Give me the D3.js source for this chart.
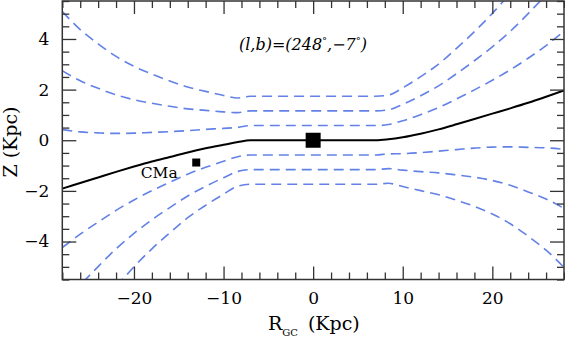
<!DOCTYPE html>
<html>
<head>
<meta charset="utf-8">
<script src="https://cdn.jsdelivr.net/npm/d3@7"></script>
<style>
  body { margin: 0; background: #fff; }
  svg text { font-family: "DejaVu Serif", serif; fill: #000; }
</style>
</head>
<body>
<div id="mydiv"></div>
<script>
// R_GC sample positions (Kpc)
const rgc = [-28, -26, -24, -22, -20, -18, -16, -14, -12, -10, -8.4, -7, 0,
             7, 8.4, 10, 12, 14, 16, 18, 20, 22, 24, 26, 28];

// warped mid-plane (solid black)
const zMid = [-1.91, -1.69, -1.47, -1.25, -1.04, -0.84, -0.66, -0.48, -0.32, -0.18, -0.07, 0, 0,
              0, 0.04, 0.12, 0.26, 0.43, 0.63, 0.84, 1.05, 1.26, 1.48, 1.72, 1.97];

// dashed envelopes, upper side
const zUp1 = [0.42, 0.33, 0.29, 0.27, 0.28, 0.31, 0.34, 0.38, 0.43, 0.47, 0.51, 0.58, 0.58,
              0.58, 0.62, 0.77, 1.01, 1.29, 1.63, 1.99, 2.37, 2.78, 3.24, 3.74, 4.30];
const zUp2 = [2.75, 2.35, 2.05, 1.79, 1.60, 1.46, 1.34, 1.24, 1.18, 1.12, 1.09, 1.16, 1.16,
              1.16, 1.20, 1.42, 1.76, 2.15, 2.63, 3.14, 3.69, 4.30, 5.00, 5.76, 6.63];
const zUp3 = [5.08, 4.37, 3.81, 3.31, 2.92, 2.61, 2.34, 2.10, 1.93, 1.77, 1.67, 1.74, 1.74,
              1.74, 1.78, 2.07, 2.51, 3.01, 3.63, 4.29, 5.01, 5.82, 6.76, 7.78, 8.96];
// dashed envelopes, lower side
const zLo1 = [-4.24, -3.71, -3.23, -2.77, -2.36, -1.99, -1.66, -1.34, -1.07, -0.83, -0.65, -0.58, -0.58,
              -0.58, -0.54, -0.53, -0.49, -0.43, -0.37, -0.31, -0.27, -0.26, -0.28, -0.30, -0.36];
const zLo2 = [-6.57, -5.73, -4.99, -4.29, -3.68, -3.14, -2.66, -2.20, -1.82, -1.48, -1.23, -1.16, -1.16,
              -1.16, -1.12, -1.18, -1.24, -1.29, -1.37, -1.46, -1.59, -1.78, -2.04, -2.32, -2.69];
const zLo3 = [-8.90, -7.75, -6.75, -5.81, -5.00, -4.29, -3.66, -3.06, -2.57, -2.13, -1.81, -1.74, -1.74,
              -1.74, -1.70, -1.83, -1.99, -2.15, -2.37, -2.61, -2.91, -3.30, -3.79, -4.34, -5.02];

// marked points [R_GC, Z]
const centerPt = [0, 0];
const cmaPt = [-13.05, -0.88];

const xMajor = [-20, -10, 0, 10, 20];
const yMajor = [-4, -2, 0, 2, 4];

const W = 565, H = 339;
const pL = 62.3, pR = 564, pT = 1, pB = 279.5;

const svg = d3.select("#mydiv")
  .append("svg")
  .attr("width", W)
  .attr("height", H);

const x = d3.scaleLinear().domain([-28, 28]).range([pL, pR]);
const y = d3.scaleLinear().domain([-5.5, 5.5]).range([pB, pT]);

svg.append("clipPath").attr("id", "clip")
  .append("rect")
  .attr("x", pL).attr("y", pT)
  .attr("width", pR - pL).attr("height", pB - pT);

const plot = svg.append("g").attr("clip-path", "url(#clip)");

const line = d3.line()
  .x(d => x(d[0]))
  .y(d => y(d[1]))
  .curve(d3.curveMonotoneX);

const dashed = [zUp1, zUp2, zUp3, zLo1, zLo2, zLo3];
dashed.forEach(zs => {
  plot.append("path")
    .datum(rgc.map((r, i) => [r, zs[i]]))
    .attr("d", line)
    .attr("fill", "none")
    .attr("stroke", "#6482e6")
    .attr("stroke-width", 1.6)
    .attr("stroke-dasharray", "10,6");
});

plot.append("path")
  .datum(rgc.map((r, i) => [r, zMid[i]]))
  .attr("d", line)
  .attr("fill", "none")
  .attr("stroke", "#000")
  .attr("stroke-width", 2);

// squares
plot.append("rect")
  .attr("x", x(centerPt[0]) - 7.5).attr("y", y(centerPt[1]) - 7.5)
  .attr("width", 15).attr("height", 15)
  .attr("fill", "#000");
plot.append("rect")
  .attr("x", x(cmaPt[0]) - 4).attr("y", y(cmaPt[1]) - 4)
  .attr("width", 8).attr("height", 8)
  .attr("fill", "#000");

svg.append("text")
  .attr("x", x(cmaPt[0]) - 18.5)
  .attr("y", y(cmaPt[1]) + 15.5)
  .attr("text-anchor", "end")
  .style("font-size", "15.5px")
  .text("CMa");

// axes: ticks inward on all four sides
const xMinor = d3.range(-28, 28.1, 2).filter(v => xMajor.indexOf(v) < 0);
const yMinor = d3.range(-5.5, 5.6, 0.5).filter(v => yMajor.indexOf(v) < 0);

function styleAxis(g) {
  g.select(".domain").remove();
  g.selectAll(".tick line").attr("stroke", "#333").attr("stroke-width", 1.3);
  g.selectAll("text").style("font-family", "DejaVu Serif").style("font-size", "17px").attr("fill", "#000");
}

svg.append("g").attr("transform", `translate(0,${pB})`)
  .call(d3.axisBottom(x).tickValues(xMajor).tickSize(-13).tickPadding(12.5))
  .call(styleAxis);
svg.append("g").attr("transform", `translate(0,${pB})`)
  .call(d3.axisBottom(x).tickValues(xMinor).tickSize(-7).tickFormat(""))
  .call(styleAxis);
svg.append("g").attr("transform", `translate(0,${pT})`)
  .call(d3.axisTop(x).tickValues(xMajor).tickSize(-13).tickFormat(""))
  .call(styleAxis);
svg.append("g").attr("transform", `translate(0,${pT})`)
  .call(d3.axisTop(x).tickValues(xMinor).tickSize(-7).tickFormat(""))
  .call(styleAxis);

svg.append("g").attr("transform", `translate(${pL},0)`)
  .call(d3.axisLeft(y).tickValues(yMajor).tickSize(-14).tickPadding(13))
  .call(styleAxis);
svg.append("g").attr("transform", `translate(${pL},0)`)
  .call(d3.axisLeft(y).tickValues(yMinor).tickSize(-7).tickFormat(""))
  .call(styleAxis);
svg.append("g").attr("transform", `translate(${pR},0)`)
  .call(d3.axisRight(y).tickValues(yMajor).tickSize(-14).tickFormat(""))
  .call(styleAxis);
svg.append("g").attr("transform", `translate(${pR},0)`)
  .call(d3.axisRight(y).tickValues(yMinor).tickSize(-7).tickFormat(""))
  .call(styleAxis);

// frame
svg.append("rect")
  .attr("x", pL).attr("y", pT)
  .attr("width", pR - pL).attr("height", pB - pT)
  .attr("fill", "none")
  .attr("stroke", "#333")
  .attr("stroke-width", 1.5);

// axis titles
const xt = svg.append("text")
  .attr("x", 268).attr("y", 330)
  .style("font-size", "19px");
xt.append("tspan").text("R");
xt.append("tspan").attr("dy", 6).style("font-size", "10px").text("GC");
xt.append("tspan").attr("dy", -6).attr("dx", 10).text("(Kpc)");

svg.append("text")
  .attr("transform", "translate(17,142) rotate(-90)")
  .attr("text-anchor", "middle")
  .style("font-size", "19px")
  .text("Z  (Kpc)");

// annotation
const ann = svg.append("text")
  .attr("x", 303).attr("y", 50)
  .attr("text-anchor", "middle")
  .style("font-size", "16px")
  .style("font-style", "italic");
ann.append("tspan").text("(l,b)=(248");
ann.append("tspan").attr("dy", -6).style("font-size", "10px").text("°");
ann.append("tspan").attr("dy", 6).text(",−7");
ann.append("tspan").attr("dy", -6).style("font-size", "10px").text("°");
ann.append("tspan").attr("dy", 6).text(")");
</script>
</body>
</html>
